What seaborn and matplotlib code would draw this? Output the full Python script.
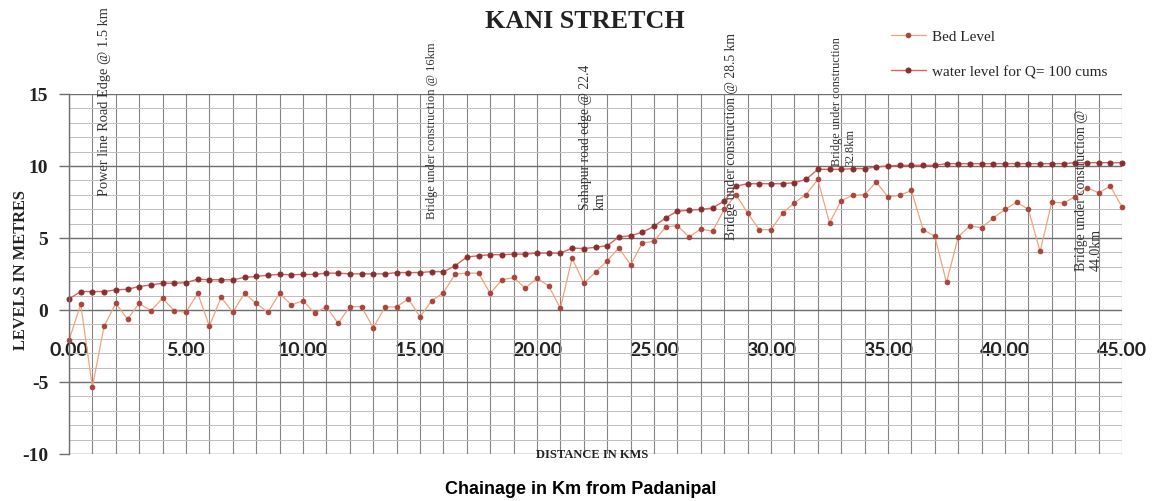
import numpy as np
import pandas as pd
import matplotlib
matplotlib.use("Agg")
import matplotlib.pyplot as plt
import seaborn as sns
from matplotlib.ticker import MultipleLocator, FixedLocator

# chainage in km, every 0.5 km
chainage = np.arange(0, 45.01, 0.5)

bed_level = [
    -2.1, 0.4, -5.35, -1.12, 0.46, -0.63, 0.46, -0.05, 0.81, -0.05,
    -0.16, 1.16, -1.12, 0.88, -0.16, 1.16, 0.46, -0.16, 1.16, 0.35,
    0.65, -0.23, 0.23, -0.93, 0.23, 0.23, -1.23, 0.19, 0.23, 0.77,
    -0.47, 0.63, 1.21, 2.49, 2.56, 2.56, 1.16, 2.09, 2.26, 1.51,
    2.21, 1.67, 0.12, 3.6, 1.86, 2.63, 3.42, 4.3, 3.14, 4.65,
    4.77, 5.77, 5.86, 5.07, 5.63, 5.47, 6.98, 8.02, 6.74, 5.58,
    5.58, 6.74, 7.44, 8.02, 9.07, 6.05, 7.6, 7.96, 8.02, 8.88,
    7.86, 7.96, 8.3, 5.58, 5.12, 1.91, 5.07, 5.86, 5.7, 6.4,
    6.98, 7.49, 6.98, 4.07, 7.49, 7.44, 7.86, 8.49, 8.14, 8.6,
    7.16,
]

water_level = [
    0.77, 1.28, 1.28, 1.28, 1.4, 1.44, 1.63, 1.74, 1.86, 1.86,
    1.9, 2.14, 2.1, 2.1, 2.1, 2.26, 2.33, 2.42, 2.47, 2.45,
    2.47, 2.47, 2.56, 2.56, 2.51, 2.51, 2.51, 2.51, 2.6, 2.6,
    2.6, 2.67, 2.65, 3.07, 3.68, 3.77, 3.84, 3.84, 3.88, 3.88,
    3.95, 3.95, 3.95, 4.3, 4.27, 4.35, 4.47, 5.07, 5.16, 5.4,
    5.81, 6.4, 6.86, 6.93, 6.98, 7.09, 7.56, 8.6, 8.77, 8.77,
    8.77, 8.77, 8.84, 9.07, 9.77, 9.77, 9.77, 9.82, 9.82, 9.93,
    10.0, 10.05, 10.05, 10.05, 10.05, 10.16, 10.16, 10.16, 10.16, 10.16,
    10.16, 10.16, 10.16, 10.16, 10.16, 10.16, 10.23, 10.23, 10.23, 10.23,
    10.23,
]

x_ticks = [0, 5, 10, 15, 20, 25, 30, 35, 40, 45]
x_tick_labels = ["0.00", "5.00", "10.00", "15.00", "20.00",
                 "25.00", "30.00", "35.00", "40.00", "45.00"]
y_ticks = [-10, -5, 0, 5, 10, 15]

# vertical notes: (km, level at text start, text, size)
notes = [
    (1.5, 8.0, "Power line Road Edge @ 1.5 km", 10.4),
    (15.5, 6.4, "Bridge under construction @ 16km", 9),
    (22.4, 7.0, "Sahapur road edge @ 22.4\nkm", 9.8),
    (28.3, 4.9, "Bridge under construction @ 28.5 km", 9.8),
    (33.1, 10.1, "Bridge under construction\n32.8km", 8.8),
    (43.6, 2.8, "Bridge under construction @\n44.0km", 10),
]

df = pd.DataFrame({"km": chainage, "bed": bed_level, "water": water_level})

sns.set_theme(style="white")
plt.rcParams["font.family"] = ["Liberation Serif", "DejaVu Serif"]

W, H = 1162, 502
fig = plt.figure(figsize=(W / 100, H / 100), dpi=100)
ax = fig.add_axes([69 / W, 1 - 455 / H, (1122 - 69) / W, 360 / H])

sns.lineplot(data=df, x="km", y="bed", ax=ax, color="#f3a27c", lw=0.9,
             marker="o", markersize=3.3, markerfacecolor="#a8453c",
             markeredgecolor="#a8453c", label="Bed Level", clip_on=False)
sns.lineplot(data=df, x="km", y="water", ax=ax, color="#e0605c", lw=1.0,
             marker="o", markersize=3.6, markerfacecolor="#862f2f",
             markeredgecolor="#862f2f", label="water level for Q= 100 cums",
             clip_on=False)

ax.set_xlim(0, 45)
ax.set_ylim(-10, 15)

for s in ["top", "right"]:
    ax.spines[s].set_visible(False)
ax.spines["bottom"].set_position(("data", 0))
ax.spines["bottom"].set_visible(False)
ax.spines["left"].set_color("#6e6e6e")
ax.spines["left"].set_linewidth(1.0)

# grid
ax.xaxis.set_major_locator(FixedLocator(x_ticks))
ax.xaxis.set_minor_locator(MultipleLocator(1))
ax.yaxis.set_major_locator(FixedLocator(y_ticks))
ax.yaxis.set_minor_locator(MultipleLocator(1))
ax.grid(which="minor", axis="y", color="#c4bcbc", lw=0.7)
ax.grid(which="major", axis="y", color="#6e6e6e", lw=1.0)
ax.grid(which="both", axis="x", color="#858585", lw=0.8)
ax.set_axisbelow(True)

ax.set_xticks(x_ticks)
ax.set_xticklabels(x_tick_labels, family=["Lato", "DejaVu Sans"],
                   fontweight="bold", fontsize=14, color="#222222")
ax.tick_params(axis="x", which="both", length=0, pad=22)
ax.set_yticks(y_ticks)
ax.set_yticklabels([str(v) for v in y_ticks], fontweight="bold", fontsize=14,
                   color="#222222")
ax.tick_params(axis="y", which="major", length=7, width=1, color="#6e6e6e",
               direction="out", left=True, pad=8)
ax.tick_params(axis="y", which="minor", length=0)

ax.set_xlabel("")
ax.set_ylabel("LEVELS IN METRES", fontweight="bold", fontsize=11.8,
              color="#222222")
ax.yaxis.set_label_coords(-0.038, 0.514)

fig.text(585 / W, 1 - 21 / H, "KANI STRETCH", ha="center", va="center",
         fontsize=18.8, fontweight="bold", color="#222222")
fig.text(592 / W, 1 - 455 / H, "DISTANCE IN KMS", ha="center", va="center",
         fontsize=9, fontweight="bold", color="#222222")
fig.text(581 / W, 1 - 490 / H, "Chainage in Km from Padanipal", ha="center",
         va="center", fontsize=13, fontweight="bold",
         family=["Liberation Sans", "DejaVu Sans"], color="black")

for km, lev, txt, fs in notes:
    ax.text(km, lev, txt, rotation=90, ha="center", va="bottom",
            multialignment="left", fontsize=fs, color="#333333")

leg = ax.legend(loc="upper left", bbox_to_anchor=(877 / W, 1 - 17 / H),
                bbox_transform=fig.transFigure, frameon=False, fontsize=11,
                handlelength=2.3, labelspacing=1.4, handletextpad=0.4)

fig.savefig("out.png", dpi=100)
